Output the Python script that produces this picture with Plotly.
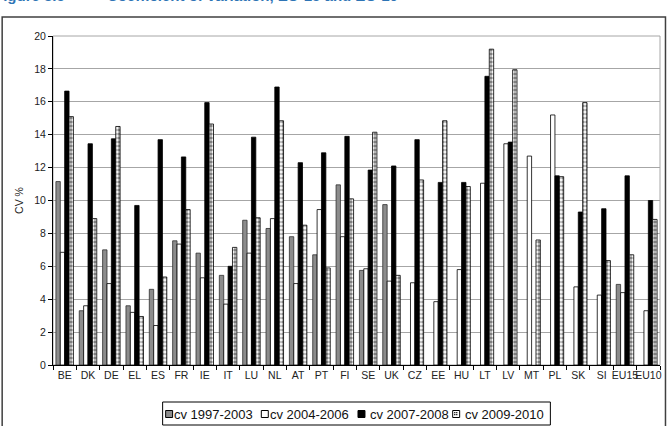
import plotly.graph_objects as go

categories = ["BE", "DK", "DE", "EL", "ES", "FR", "IE", "IT", "LU", "NL", "AT", "PT", "FI",
              "SE", "UK", "CZ", "EE", "HU", "LT", "LV", "MT", "PL", "SK", "SI", "EU15", "EU10"]

cv_1997_2003 = [11.15, 3.3, 7.0, 3.6, 4.6, 7.55, 6.8, 5.45, 8.8, 8.3, 7.8, 6.7, 10.95,
                5.75, 9.75, None, None, None, None, None, None, None, None, None, 4.9, None]
cv_2004_2006 = [6.85, 3.6, 4.95, 3.2, 2.4, 7.35, 5.3, 3.7, 6.8, 8.9, 4.95, 9.45, 7.8,
                5.85, 5.1, 5.0, 3.85, 5.8, 11.05, 13.45, 12.7, 15.2, 4.75, 4.25, 4.4, 3.3]
cv_2007_2008 = [16.65, 13.45, 13.75, 9.7, 13.7, 12.65, 15.95, 6.0, 13.85, 16.9, 12.3, 12.9, 13.9,
                11.85, 12.1, 13.7, 11.1, 11.1, 17.55, 13.55, None, 11.5, 9.3, 9.5, 11.5, 10.0]
cv_2009_2010 = [15.1, 8.9, 14.5, 2.95, 5.35, 9.45, 14.65, 7.15, 8.95, 14.85, 8.5, 5.9, 10.1,
                14.15, 5.45, 11.25, 14.85, 10.85, 19.2, 17.95, 7.6, 11.45, 15.95, 6.35, 6.7, 8.85]

series_names = ["cv 1997-2003", "cv 2004-2006", "cv 2007-2008", "cv 2009-2010"]

W, H = 670, 426
L, R, T, B = 53, 8, 36, 61
pw, ph = W - L - R, H - T - B


def px_x(p):
    return (p - L) / pw


def px_y(p):
    return (H - B - p) / ph


FONT = "Liberation Sans, Arial, sans-serif"

gray_marker = dict(color="#8c8c8c", line=dict(color="#303030", width=0.8))
white_marker = dict(color="#ffffff", line=dict(color="#000000", width=0.8))
black_marker = dict(color="#000000", line=dict(color="#000000", width=0.8))
pattern_marker = dict(color="#ffffff", line=dict(color="#000000", width=0.8),
                      pattern=dict(shape=".", fgcolor="#000000", bgcolor="#ffffff",
                                   size=4, solidity=0.55))

fig = go.Figure()
fig.add_trace(go.Bar(x=categories, y=cv_1997_2003, name=series_names[0], marker=gray_marker))
fig.add_trace(go.Bar(x=categories, y=cv_2004_2006, name=series_names[1], marker=white_marker))
fig.add_trace(go.Bar(x=categories, y=cv_2007_2008, name=series_names[2], marker=black_marker))
fig.add_trace(go.Bar(x=categories, y=cv_2009_2010, name=series_names[3], marker=pattern_marker))

fig.update_layout(
    width=W, height=H,
    margin=dict(l=L, r=R, t=T, b=B, pad=0),
    paper_bgcolor="white", plot_bgcolor="white",
    barmode="group", bargap=0.25, bargroupgap=0,
    font=dict(family=FONT, size=10, color="#222222"),
    showlegend=False,
    xaxis=dict(type="category", tickson="boundaries", ticks="outside", ticklen=4,
               tickcolor="#000000", showline=True, linecolor="#000000", linewidth=1,
               showgrid=False, tickangle=0, tickfont=dict(size=10.5), fixedrange=True),
    yaxis=dict(range=[0, 20], dtick=2, ticks="outside", ticklen=4, tickcolor="#000000",
               showline=True, linecolor="#000000", linewidth=1,
               showgrid=True, gridcolor="#a6a6a6", gridwidth=1, zeroline=False,
               tickfont=dict(size=10.5),
               title=dict(text="CV %", font=dict(size=10.5), standoff=8)),
)

# plot-area frame (top and right edges)
fig.add_shape(type="rect", xref="paper", yref="paper", x0=0, y0=0, x1=1, y1=1,
              line=dict(color="#a6a6a6", width=1), layer="below")
# outer chart border
fig.add_shape(type="rect", xref="paper", yref="paper",
              x0=px_x(2), y0=px_y(430), x1=px_x(667.5), y1=px_y(17),
              line=dict(color="#404040", width=1.5))

# Custom legend (box, swatches, labels)
fig.add_shape(type="rect", xref="paper", yref="paper",
              x0=px_x(163), y0=px_y(425), x1=px_x(552), y1=px_y(402),
              line=dict(color="#000000", width=1), fillcolor="white")
swatch_x = [166, 262, 359, 454]
text_x = [172, 269, 369, 464]
swatch_fills = ["#8c8c8c", "#ffffff", "#000000", "#ffffff"]
sy0, sy1 = 410.5, 417.5
for i, name in enumerate(series_names):
    fig.add_shape(type="rect", xref="paper", yref="paper",
                  x0=px_x(swatch_x[i]), x1=px_x(swatch_x[i] + 7),
                  y0=px_y(sy1), y1=px_y(sy0),
                  line=dict(color="#000000", width=1), fillcolor=swatch_fills[i])
    fig.add_annotation(text=name, xref="paper", yref="paper",
                       x=px_x(text_x[i]), y=px_y(414), xanchor="left", yanchor="middle",
                       showarrow=False, font=dict(family=FONT, size=13, color="#111111"))
# pattern hint inside last swatch
for dx, dy in [(1.5, 1.5), (3.5, 3.5), (1.5, 3.5), (3.5, 1.5)]:
    fig.add_shape(type="rect", xref="paper", yref="paper",
                  x0=px_x(swatch_x[3] + dx), x1=px_x(swatch_x[3] + dx + 1.2),
                  y0=px_y(sy0 + dy + 1.2), y1=px_y(sy0 + dy),
                  line=dict(width=0), fillcolor="#000000")

# Cropped heading at top of page
fig.add_annotation(text="<b>Figure 3.5</b>", xref="paper", yref="paper",
                   x=px_x(-8), y=px_y(6), xanchor="left", yanchor="bottom",
                   showarrow=False, font=dict(family=FONT, size=15, color="#2E74B5"))
fig.add_annotation(text="<b>Coefficient of variation, EU-15 and EU-10</b>", xref="paper", yref="paper",
                   x=px_x(105), y=px_y(6), xanchor="left", yanchor="bottom",
                   showarrow=False, font=dict(family=FONT, size=15, color="#2E74B5"))

fig.write_html("out.html")
